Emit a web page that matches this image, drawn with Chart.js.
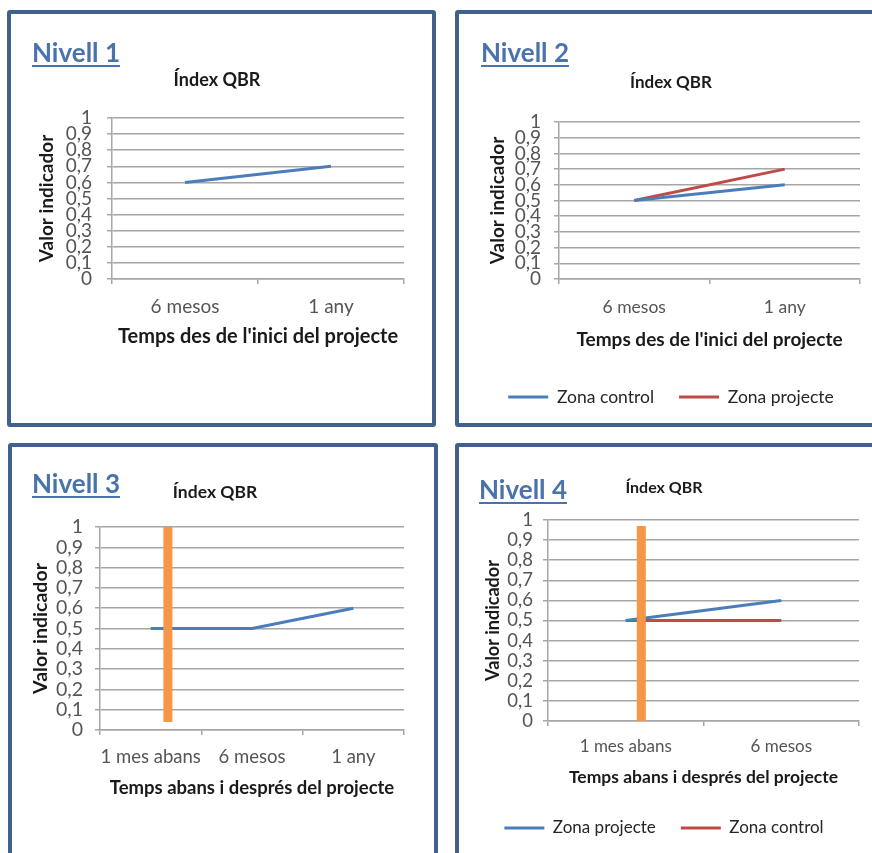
<!DOCTYPE html>
<html>
<head>
<meta charset="utf-8">
<script src="https://cdn.jsdelivr.net/npm/chart.js@4"></script>
<style>
  html, body { margin: 0; padding: 0; background: #ffffff; }
  body { width: 872px; height: 853px; position: relative; overflow: hidden; font-family: Lato, "Open Sans", sans-serif; }
  .panel { position: absolute; border: 4px solid #41618c; border-radius: 3px; box-sizing: border-box; background: #ffffff; }
  .nivell { position: absolute; font-family: Lato, sans-serif; font-weight: bold; font-size: 26px; line-height: 1; color: #4a73ad; text-decoration: underline; text-decoration-thickness: 2px; text-underline-offset: 3px; z-index: 3; }
  canvas { position: absolute; z-index: 2; }
</style>
</head>
<body>
<div class="panel" style="left:7px; top:10px; width:429px; height:417px;"></div>
<div class="panel" style="left:455px; top:10px; width:440px; height:417px;"></div>
<div class="panel" style="left:8px; top:443px; width:430px; height:430px;"></div>
<div class="panel" style="left:455px; top:443px; width:440px; height:430px;"></div>

<div class="nivell" style="left:32px; top:39px;">Nivell 1</div>
<div class="nivell" style="left:481px; top:39px;">Nivell 2</div>
<div class="nivell" style="left:32px; top:470px;">Nivell 3</div>
<div class="nivell" style="left:479px; top:476px;">Nivell 4</div>

<canvas id="c1" width="436" height="430" style="left:0px; top:0px;"></canvas>
<canvas id="c2" width="436" height="430" style="left:436px; top:0px;"></canvas>
<canvas id="c3" width="436" height="423" style="left:0px; top:430px;"></canvas>
<canvas id="c4" width="436" height="423" style="left:436px; top:430px;"></canvas>

<script>
// ---------- DATA ----------
const chartTitle = 'Índex QBR';
const yAxisTitle = 'Valor indicador';
const yTickLabels = ['0', '0,1', '0,2', '0,3', '0,4', '0,5', '0,6', '0,7', '0,8', '0,9', '1'];

// Nivell 1
const catsN1 = ['6 mesos', '1 any'];
const qbrN1 = [0.6, 0.7];
const xTitleN1 = "Temps des de l'inici del projecte";

// Nivell 2
const catsN2 = ['6 mesos', '1 any'];
const controlN2 = [0.5, 0.6];
const projecteN2 = [0.5, 0.7];
const xTitleN2 = "Temps des de l'inici del projecte";

// Nivell 3
const catsN3 = ['1 mes abans', '6 mesos', '1 any'];
const qbrN3 = [0.5, 0.5, 0.6];
const markerN3 = [{ x: 0.17, y: 1 }, { x: 0.17, y: 0.04 }];
const xTitleN3 = 'Temps abans i després del projecte';

// Nivell 4
const catsN4 = ['1 mes abans', '6 mesos'];
const projecteN4 = [0.5, 0.6];
const controlN4 = [0.5, 0.5];
const markerN4 = [{ x: 0.1, y: 0.97 }, { x: 0.1, y: 0 }];
const xTitleN4 = 'Temps abans i després del projecte';

// ---------- STYLE ----------
const BLUE = '#4a7ebb';
const RED = '#be4b48';
const ORANGE = '#f79646';
const GRID = '#a6a6a6';
const TICK = '#555555';
const TEXT = '#1a1a1a';
const TICKLEN = 5;

Chart.defaults.font.family = 'Lato, "Open Sans", sans-serif';
Chart.defaults.animation = false;

function lineDs(label, data, color) {
  return { type: 'line', label, data, borderColor: color, backgroundColor: color, borderWidth: 3,
           pointRadius: 0, pointHoverRadius: 0, tension: 0, xAxisID: 'x', yAxisID: 'y', order: 2 };
}
function markerDs(data) {
  return { type: 'line', label: '_marker', data, borderColor: ORANGE, backgroundColor: ORANGE, borderWidth: 9,
           borderCapStyle: 'butt', pointRadius: 0, pointHoverRadius: 0, xAxisID: 'xm', yAxisID: 'y', order: 0 };
}

// L holds layout targets in canvas pixels (style only, no data)
function makeChart(id, cats, datasets, xTitle, L) {
  const F = L.fonts;
  const titleTop = L.titleCY - F.title / 2;
  const titleBottom = L.chartTop - L.titleCY - F.title / 2;
  const yTitlePad = L.yTitleCX - L.padL - F.yTitle / 2;
  const xTickPad = L.xLabelCY - L.chartBottom - TICKLEN - F.xTick / 2;
  let xH, padBottom, legendPad = L.legendPad || 0;
  if (L.legendCY) {
    const legendTop = L.legendCY - legendPad - F.legend / 2;
    const legendH = F.legend + legendPad + 10;
    xH = legendTop - L.chartBottom;
    padBottom = L.H - legendTop - legendH;
  } else {
    xH = L.xTitleCY + F.xTitle / 2 + 12 - L.chartBottom;
    padBottom = L.H - L.chartBottom - xH;
  }
  const xTitlePad = L.chartBottom + xH - L.xTitleCY - F.xTitle / 2;

  const scales = {
    x: {
      type: 'category', labels: cats, offset: true,
      grid: { display: true, drawOnChartArea: false, drawTicks: true, tickLength: TICKLEN, offset: true, color: GRID, lineWidth: 1.5 },
      border: { display: true, color: GRID, width: 1.5 },
      ticks: { color: TICK, font: { size: F.xTick, lineHeight: 1 }, padding: xTickPad, autoSkip: false, maxRotation: 0 },
      title: { display: true, text: xTitle, color: TEXT, font: { size: F.xTitle, weight: 'bold', lineHeight: 1 }, padding: { top: 0, bottom: xTitlePad } },
      afterFit(s) { s.height = xH; }
    },
    y: {
      type: 'linear', min: 0, max: 1,
      grid: { color: GRID, lineWidth: 1.5, drawTicks: true, tickLength: TICKLEN },
      border: { display: true, color: GRID, width: 1.5 },
      ticks: { stepSize: 0.1, autoSkip: false, color: TICK, font: { size: F.yTick, lineHeight: 1 }, padding: L.yTickPad,
               callback: (v, i) => yTickLabels[i] },
      title: { display: true, text: yAxisTitle, color: TEXT, font: { size: F.yTitle, weight: 'bold', lineHeight: 1 }, padding: { top: yTitlePad, bottom: 0 } },
      afterFit(s) { s.width = L.yAxisX - L.padL; }
    }
  };
  if (L.markerAxis) {
    scales.xm = { type: 'linear', display: false, min: -0.5, max: cats.length - 0.5 };
  }
  return new Chart(document.getElementById(id), {
    type: 'line',
    data: { labels: cats, datasets },
    options: {
      responsive: false,
      animation: false,
      layout: { padding: { left: L.padL, right: L.padR, top: 0, bottom: padBottom } },
      plugins: {
        title: { display: true, text: chartTitle, color: TEXT, font: { size: F.title, weight: 'bold', lineHeight: 1 },
                 padding: { top: titleTop, bottom: titleBottom } },
        legend: L.legendCY ? {
          display: true, position: 'bottom',
          labels: { usePointStyle: true, pointStyle: 'line', pointStyleWidth: 40, color: '#262626',
                    font: { size: F.legend, lineHeight: 1 }, padding: legendPad,
                    filter: (item) => item.text !== '_marker' }
        } : { display: false },
        tooltip: { enabled: false }
      },
      scales
    }
  });
}

makeChart('c1', catsN1, [lineDs('Índex QBR', qbrN1, BLUE)], xTitleN1, {
  H: 430, padL: 30, padR: 32, yAxisX: 112, chartTop: 118, chartBottom: 279,
  titleCY: 80, yTitleCX: 47, xLabelCY: 307, xTitleCY: 337, yTickPad: 15,
  fonts: { title: 18, yTitle: 19, xTitle: 20, xTick: 19, yTick: 19 }
});

makeChart('c2', catsN2, [lineDs('Zona control', controlN2, BLUE), lineDs('Zona projecte', projecteN2, RED)], xTitleN2, {
  H: 430, padL: 46, padR: 12, yAxisX: 123, chartTop: 122, chartBottom: 279,
  titleCY: 83, yTitleCX: 62, xLabelCY: 307, xTitleCY: 340, yTickPad: 13,
  legendCY: 397, legendPad: 25,
  fonts: { title: 17, yTitle: 19, xTitle: 19, xTick: 17.5, yTick: 19, legend: 17.5 }
});

makeChart('c3', catsN3, [markerDs(markerN3), lineDs('Índex QBR', qbrN3, BLUE)], xTitleN3, {
  H: 423, padL: 26, padR: 32, yAxisX: 100, chartTop: 97, chartBottom: 300,
  titleCY: 62, yTitleCX: 41, xLabelCY: 327, xTitleCY: 358, yTickPad: 12,
  markerAxis: true,
  fonts: { title: 17.5, yTitle: 19.5, xTitle: 18.5, xTick: 18.5, yTick: 19.5 }
});

makeChart('c4', catsN4, [markerDs(markerN4), lineDs('Zona projecte', projecteN4, BLUE), lineDs('Zona control', controlN4, RED)], xTitleN4, {
  H: 423, padL: 33, padR: 13, yAxisX: 112, chartTop: 90, chartBottom: 291,
  titleCY: 58, yTitleCX: 57, xLabelCY: 317, xTitleCY: 347, yTickPad: 10,
  legendCY: 398, legendPad: 25, markerAxis: true,
  fonts: { title: 16, yTitle: 18, xTitle: 17.5, xTick: 17, yTick: 18.5, legend: 17 }
});
</script>
</body>
</html>
